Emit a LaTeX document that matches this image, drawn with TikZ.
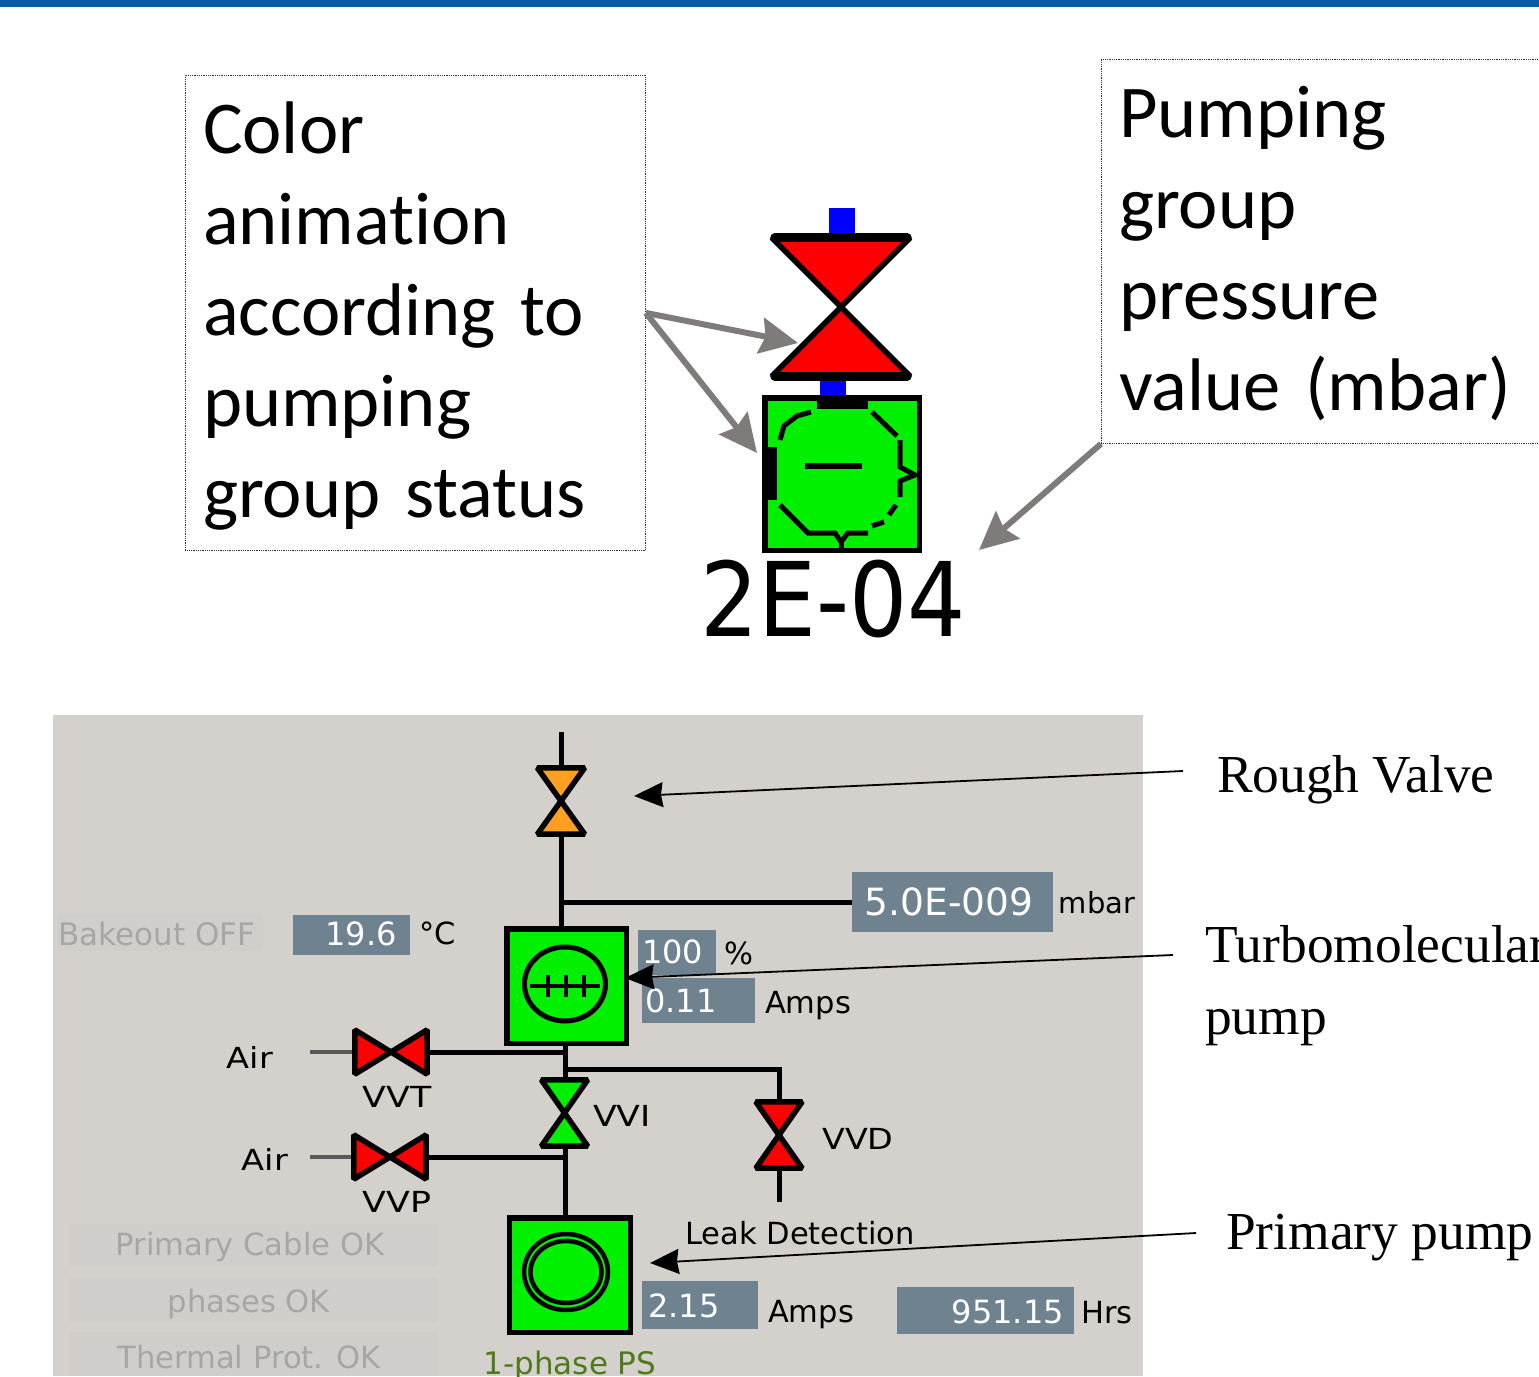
\documentclass[tikz,border=0pt]{standalone}
\usepackage{fontspec}
\setmainfont{Liberation Serif}
\newfontfamily\calloutfont[Ligatures=NoCommon]{Carlito}
\newfontfamily\hmifont{DejaVu Sans}
\usetikzlibrary{arrows.meta}
\definecolor{topbar}{HTML}{0B5CA8}
\definecolor{panel}{HTML}{D4D0CB}
\definecolor{readout}{HTML}{6E8290}
\definecolor{dimbox}{HTML}{CFCECB}
\definecolor{dimtext}{HTML}{A6A6A2}
\definecolor{callgrey}{HTML}{7F7B7B}
\definecolor{hmigreen}{HTML}{00F000}
\definecolor{hmiorange}{HTML}{FFA020}
\definecolor{olivetext}{HTML}{4D7A1A}
\tikzset{
  callout/.style={draw=black!80,densely dotted,line width=0.8pt,anchor=north west,inner sep=0pt},
  callouttext/.style={align=left,inner sep=0pt,text width=424pt,font=\calloutfont\fontsize{74.5}{91}\selectfont},
  callarrow/.style={draw=callgrey,line width=6pt,-{Stealth[length=38pt,width=36pt,inset=5pt,fill=callgrey]}},
  notearrow/.style={draw=black,line width=1.8pt,-{Stealth[length=29pt,width=25pt,inset=2pt]}},
  serifnote/.style={anchor=base west,inner sep=0pt,font=\fontsize{53.4}{72}\selectfont},
  pipe/.style={draw=black,line width=5pt},
  airline/.style={draw=black!65,line width=3.5pt},
  valveframe/.style={inner sep=0pt,draw=none},
  valvefill/.style={draw=black,line width=5.5pt,line join=miter,miter limit=2},
  valvebar/.style={draw=black,line width=9pt,line cap=round,shorten >=3pt,shorten <=3pt},
  pumpbox/.style={draw=black,fill=hmigreen,line width=5.5pt,inner sep=0pt},
  readoutbox/.style={fill=readout,inner sep=0pt,anchor=north west},
  readtext/.style={text=white,inner sep=0pt,font=\hmifont\fontsize{32}{32}\selectfont},
  hmilabel/.style={text=black,inner sep=0pt,font=\hmifont\fontsize{30.5}{30}\selectfont},
  widelabel/.style={text=black,inner sep=0pt,font=\hmifont\fontsize{29}{29}\selectfont},
  dimpanel/.style={fill=dimbox,inner sep=0pt,anchor=north west},
  dimlabel/.style={text=dimtext,inner sep=0pt,font=\hmifont\fontsize{30.6}{30}\selectfont},
  dial/.style={draw=black,line width=5pt},
  dash seg/.style={draw=black,line width=5pt,line cap=butt}
}
\newcommand{\vertvalve}[2]{%
  \draw[valvefill,fill=#2] (#1.north west) -- (#1.north east) -- (#1.center) -- cycle;
  \draw[valvefill,fill=#2] (#1.south west) -- (#1.south east) -- (#1.center) -- cycle;}
\newcommand{\horzvalve}[2]{%
  \draw[valvefill,fill=#2] (#1.north west) -- (#1.south west) -- (#1.center) -- cycle;
  \draw[valvefill,fill=#2] (#1.north east) -- (#1.south east) -- (#1.center) -- cycle;}
\begin{document}
\begin{tikzpicture}[x=1pt,y=-1pt]
\useasboundingbox (0,0) rectangle (1539,1376);
\clip (0,0) rectangle (1539,1376);
\fill[topbar] (0,0) rectangle (1539,7);

% ---- callouts
\node[callout,minimum width=460pt,minimum height=475pt] (callA) at (185,75) {};
\node[callouttext] (callAtext) at (415,316.5)
  {Color\\animation\\according to\\pumping\\group status};
\node[callout,minimum width=460pt,minimum height=384pt] (callB) at (1101,59) {};
\node[callouttext] (callBtext) at (1331,254)
  {Pumping\\group\\pressure\\value (mbar)};

% ---- large symbol
\node[fill=blue,inner sep=0pt,minimum width=26pt,minimum height=30pt] (bluetop) at (842,223) {};
\node[fill=blue,inner sep=0pt,minimum width=26pt,minimum height=22pt] (bluelow) at (833,387) {};
\node[valveframe,minimum width=138pt,minimum height=138pt] (bigvalve) at (841,307) {};
\vertvalve{bigvalve}{red}
\draw[valvebar] (bigvalve.north west) -- (bigvalve.north east);
\draw[valvebar] (bigvalve.south west) -- (bigvalve.south east);
\node[pumpbox,minimum width=154.5pt,minimum height=152.5pt] (bigpump) at (842,474) {};
\begin{scope}[dash seg]
  \draw[line width=9pt] (817,404) -- (868,404);
  \draw[line width=12pt] (771,447) -- (771,500);
  \draw (780,440) -- (784,426) -- (797,416) -- (811,412);
  \draw (872,412) -- (897,436);
  \draw (900,440) -- (900,467) -- (915,475) -- (900,481) -- (900,497);
  \draw (896,505) -- (889,515);
  \draw (884,522) -- (872,526);
  \draw (868,533) -- (848,533) -- (841,542) -- (835,533) -- (808,533) -- (780,505);
  \draw (841,542) -- (841,552);
  \draw[line width=6pt] (805,466) -- (862,466);
\end{scope}
\node[inner sep=0pt,text=black] (pressure) at (833,599)
  {\hmifont\fontsize{103}{103}\selectfont\scalebox{0.89}[1]{2E-04}};

% ---- panel
\fill[panel] (53,715) rectangle (1143,1376);

\node[readoutbox,minimum width=201pt,minimum height=60pt] (boxp) at (852,872) {};
\node[readtext,font=\hmifont\fontsize{37.5}{37}\selectfont] (txtp) at (949,902) {5.0E-009};
\node[hmilabel,font=\hmifont\fontsize{29}{29}\selectfont] (mbar) at (1097,903) {mbar};

\node[dimpanel,minimum width=206pt,minimum height=38pt] (bakebox) at (57,913) {};
\node[dimlabel,font=\hmifont\fontsize{31}{31}\selectfont] (baketxt) at (157,934) {Bakeout OFF};
\node[readoutbox,minimum width=117pt,minimum height=40pt] (boxt) at (293,915) {};
\node[readtext,anchor=east] (txtt) at (397,934) {19.6};
\node[hmilabel] (degc) at (438,933) {°C};

\node[readoutbox,minimum width=78pt,minimum height=45pt] (boxpct) at (638,930) {};
\node[readtext,anchor=west] (txtpct) at (642,952) {100};
\node[hmilabel] (pct) at (739,953) {\%};
\node[readoutbox,minimum width=113pt,minimum height=45pt] (boxamp) at (642,978) {};
\node[readtext,anchor=west] (txtamp) at (645,1001) {0.11};
\node[hmilabel] (amps1) at (808,1006) {Amps};

\node[readoutbox,minimum width=116pt,minimum height=48pt] (boxamp2) at (642,1281) {};
\node[readtext,anchor=west] (txtamp2) at (648,1306) {2.15};
\node[hmilabel] (amps2) at (811,1315) {Amps};
\node[readoutbox,minimum width=177pt,minimum height=47pt] (boxhrs) at (897,1287) {};
\node[readtext,anchor=east] (txthrs) at (1064,1312) {951.15};
\node[hmilabel] (hrs) at (1107,1313) {Hrs};
\node[hmilabel] (leak) at (800,1233) {Leak Detection};

\node[dimpanel,minimum width=367pt,minimum height=42pt] (dim1) at (70,1224) {};
\node[dimpanel,minimum width=367pt,minimum height=44pt] (dim2) at (70,1278) {};
\node[dimpanel,minimum width=367pt,minimum height=44pt] (dim3) at (70,1332) {};
\node[dimlabel] (dim1t) at (250,1247) {Primary Cable OK};
\node[dimlabel] (dim2t) at (249,1304) {phases OK};
\node[dimlabel] (dim3t) at (249,1357) {Thermal Prot. OK};

% valve and pump placeholders
\coordinate (pipetop) at (561,732);
\coordinate (airT) at (310,1052);
\coordinate (airP) at (310,1157);
\coordinate (vvdend) at (779,1202);
\node[valveframe,minimum width=47pt,minimum height=66pt] (rough) at (561,801) {};
\node[valveframe,minimum width=46pt,minimum height=66pt] (vvi) at (564.5,1113) {};
\node[valveframe,minimum width=46pt,minimum height=66pt] (vvd) at (779,1135) {};
\node[valveframe,minimum width=72pt,minimum height=44pt] (vvt) at (391,1052) {};
\node[valveframe,minimum width=72pt,minimum height=44pt] (vvp) at (390,1157) {};
\node[pumpbox,minimum width=119.5pt,minimum height=114.5pt] (turbo) at (566.5,986) {};
\node[pumpbox,minimum width=121pt,minimum height=114.5pt] (primary) at (570,1275) {};

% pipes
\coordinate (tee1) at (rough.south |- boxp.west);
\coordinate (tee2) at (565,1069);
\draw[pipe] (pipetop) -- (rough.north);
\draw[pipe] (rough.south) -- (rough.south |- turbo.north);
\draw[pipe] (tee1) -- (boxp.west);
\draw[pipe] (565,1046) -- (vvi.north -| 565,0);
\draw[pipe] (tee2) -| (vvd.north);
\draw[pipe] (vvd.south) -- (vvdend);
\draw[pipe] (vvi.south -| 565,0) -- (565,1217);
\draw[pipe] (vvt.east) -- (vvt.east -| 565,0);
\draw[pipe] (vvp.east) -- (vvp.east -| 565,0);
\draw[airline] (airT) -- (vvt.west);
\draw[airline] (airP) -- (vvp.west);

\vertvalve{rough}{hmiorange}
\vertvalve{vvi}{hmigreen}
\vertvalve{vvd}{red}
\horzvalve{vvt}{red}
\horzvalve{vvp}{red}
\node[pumpbox,minimum width=119.5pt,minimum height=114.5pt] (turboface) at (566.5,986) {};
\node[pumpbox,minimum width=121pt,minimum height=114.5pt] (primaryface) at (570,1275) {};
\draw[dial] (565,984) ellipse [x radius=40.5,y radius=37];
\draw[line width=4pt] (530,986) -- (600,986);
\draw[line width=4pt] (548,975) -- (548,997) (566,975) -- (566,997) (584,975) -- (584,997);
\draw[line width=4.5pt] (566,1272) ellipse [x radius=42,y radius=38];
\draw[line width=4.5pt] (566,1272) ellipse [x radius=35.5,y radius=31];

\node[widelabel] (airtxt1) at (250,1057) {\scalebox{1.16}[1]{Air}};
\node[widelabel] (airtxt2) at (265,1159) {\scalebox{1.16}[1]{Air}};
\node[widelabel] (vvttxt) at (397,1097) {\scalebox{1.2}[1]{VVT}};
\node[widelabel] (vvptxt) at (397,1202) {\scalebox{1.2}[1]{VVP}};
\node[widelabel] (vvitxt) at (622,1116) {\scalebox{1.2}[1]{VVI}};
\node[widelabel] (vvdtxt) at (858,1139) {\scalebox{1.15}[1]{VVD}};
\node[widelabel,text=olivetext,font=\hmifont\fontsize{31}{31}\selectfont] (phase) at (570,1366) {1-phase PS};

% ---- right labels
\node[serifnote] (lblrough) at (1217,792) {Rough Valve};
\node[serifnote] (lblturbo) at (1205,962) {Turbomolecular};
\node[serifnote] (lblturbo2) at (1205,1034) {pump};
\node[serifnote] (lblprim) at (1226,1249) {Primary pump};

% ---- arrows
\coordinate (roughtip) at (634,796);
\coordinate (turbotip) at (625,978);
\coordinate (primtip) at (650,1263);
\draw[notearrow] (1183,771) -- (roughtip);
\draw[notearrow] (1173,955) -- (turbotip);
\draw[notearrow] (1196,1233) -- (primtip);
\coordinate (valvetip) at (798,343);
\coordinate (pumptip) at (757,453);
\coordinate (readtip) at (979,550);
\draw[callarrow] (callA.east) -- (valvetip);
\draw[callarrow] (callA.east) -- (pumptip);
\draw[callarrow] (callB.south west) -- (readtip);
\end{tikzpicture}
\end{document}
